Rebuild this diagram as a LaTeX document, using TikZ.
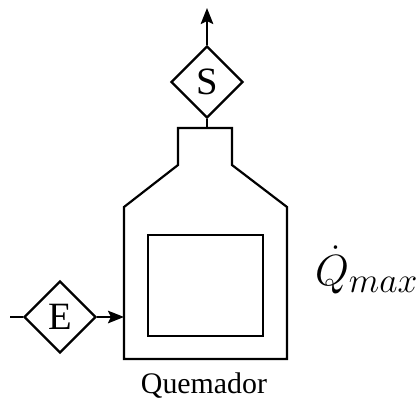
\documentclass[tikz,border=0pt]{standalone}
\usepackage{amsmath}
\usepackage{fontspec}
\setmainfont{Liberation Serif}
\usepackage{tikz}
\usetikzlibrary{arrows.meta,positioning,shapes.geometric}
\begin{document}
\begin{tikzpicture}[x=0.02cm,y=-0.02cm,line width=1.25pt,>={Stealth[length=3.2mm,width=2.5mm,inset=0.6mm]},
  valve/.style={draw,diamond,inner sep=0pt,minimum width=72*0.02cm,minimum height=72*0.02cm,font=\fontsize{22}{26}\selectfont}]
\useasboundingbox (0,0) rectangle (420,400);
% burner
\draw[line join=miter] (178,128) -- (232,128) -- (232,165) -- (287,207) -- (287,359) -- (124,359) -- (124,207) -- (178,165) -- cycle;
\node[draw,minimum width=115*0.02cm,minimum height=101*0.02cm,inner sep=0pt] (core) at (205.5,285.5) {};
\coordinate (top) at (207,128);
\coordinate (inlet) at (124,317);
\coordinate (start) at (10,317);
\coordinate (stack) at (207,8);
\node[valve] (s) at (207,82) {S};
\node[valve] (e) at (60,317) {E};
\node[font=\fontsize{17}{20}\selectfont] (q) at (204,386) {Quemador};
\node[font=\fontsize{27}{32}\selectfont,anchor=west,inner sep=0pt] (qmax) at (314,270) {$\dot{Q}_{\scalebox{1.17}{$\scriptstyle max$}}$};
\draw (top) -- (s);
\draw[->] (s) -- (stack);
\draw (start) -- (e);
\draw[->] (e) -- (inlet);
\end{tikzpicture}
\end{document}
